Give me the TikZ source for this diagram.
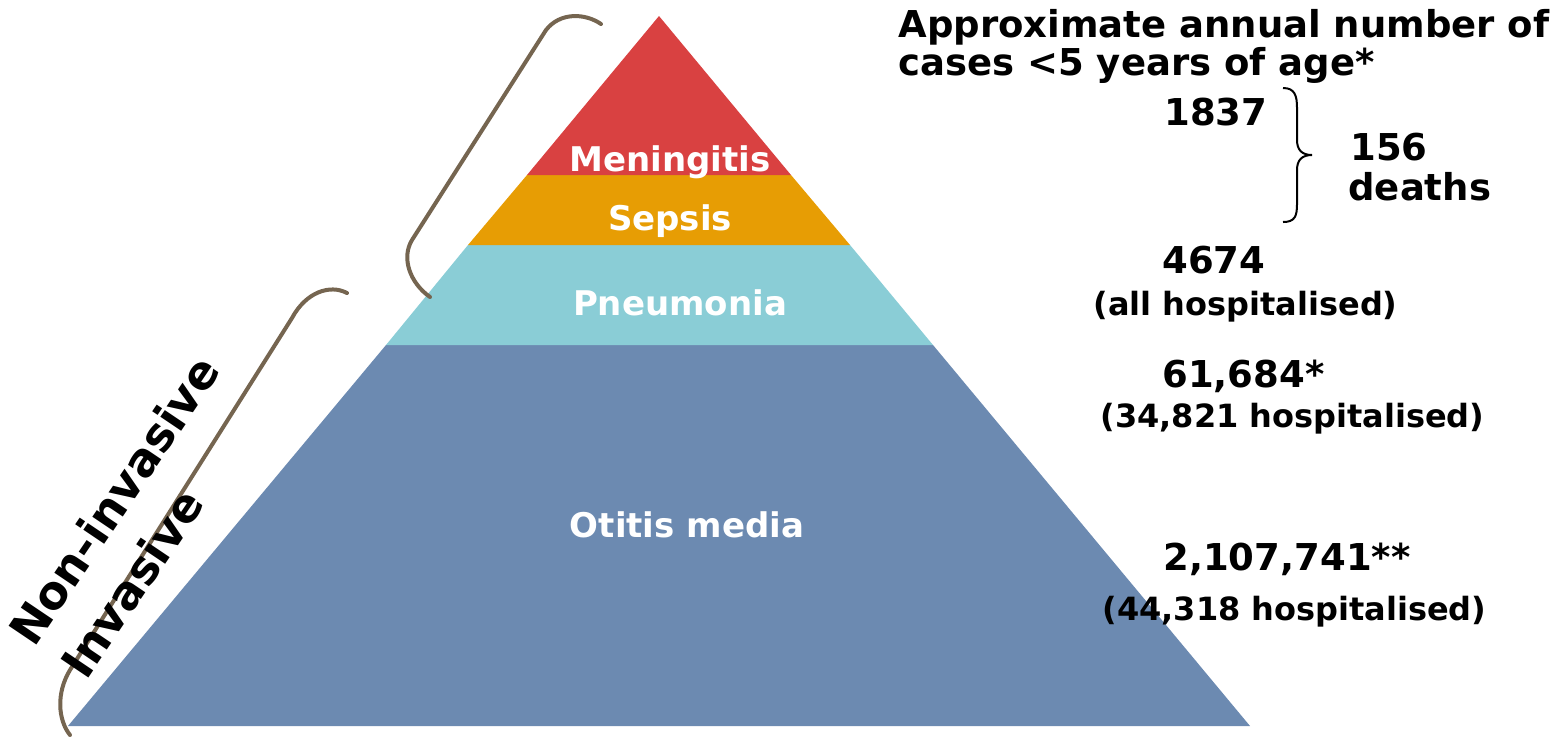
\documentclass[tikz,border=0pt]{standalone}
\usepackage{fontspec}
\setmainfont{DejaVu Sans}
\definecolor{cRed}{HTML}{D94141}
\definecolor{cOrange}{HTML}{E79D04}
\definecolor{cTeal}{HTML}{8ACDD6}
\definecolor{cBlue}{HTML}{6C8AB1}
\definecolor{cBrown}{HTML}{756550}
\tikzset{
  big/.style={inner sep=0pt, anchor=base west, font=\fontsize{18.5}{22}\selectfont\bfseries},
  small/.style={inner sep=0pt, anchor=base west, font=\fontsize{16}{19}\selectfont\bfseries},
  band/.style={inner sep=0pt, anchor=base, text=white, font=\fontsize{17}{20}\selectfont\bfseries},
  side/.style={inner sep=0pt, anchor=center, rotate=56, font=\fontsize{23}{27}\selectfont\bfseries},
  bracket/.style={draw=cBrown, line width=2pt, line cap=round},
}
\begin{document}
\begin{tikzpicture}[x=0.5pt, y=-0.5pt]
\useasboundingbox (0,0) rectangle (1556,736);
% pyramid bands
\fill[cBlue]   (386,345) -- (933,345) -- (1250,726) -- (68,726) -- cycle;
\fill[cTeal]   (468,245) -- (850,245) -- (933,345) -- (386,345) -- cycle;
\fill[cOrange] (527,175) -- (791,175) -- (850,245) -- (468,245) -- cycle;
\fill[cRed]    (659,16) -- (791,175) -- (527,175) -- cycle;
% band labels
\node[band] (men) at (670,171) {Meningitis};
\node[band] (sep) at (670,230) {Sepsis};
\node[band] (pne) at (680,315) {Pneumonia};
\node[band] (oti) at (687,537) {Otitis media};
% brackets
\draw[bracket] (601,24) .. controls (585,13) and (560,12) .. (546,30) -- (412,240) .. controls (401,258) and (410,283) .. (430,297);
\draw[bracket] (347,293) .. controls (330,284) and (306,292) .. (292,318) -- (70,670) .. controls (56,693) and (58,720) .. (70,735);
% side labels
\node[side] (noninv) at (114,500) {Non-invasive};
\node[side] (inv) at (132,583) {Invasive};
% right texts
\node[big] (head1) at (898,37) {Approximate annual number of};
\node[big] (head2) at (898,75) {cases <5 years of age*};
\node[big] (n1837) at (1164,125) {1837};
\node[big] (n156) at (1350,160) {156};
\node[big] (deaths) at (1348,200) {deaths};
\node[big] (n4674) at (1162,273) {4674};
\node[small] (allhosp) at (1093,315) {(all hospitalised)};
\node[big] (n61684) at (1162,387) {61,684*};
\node[small] (hosp1) at (1100,427) {(34,821 hospitalised)};
\node[big] (n2107) at (1163,570) {2,107,741**};
\node[small] (hosp2) at (1102,620) {(44,318 hospitalised)};
% curly brace
\draw[line width=1pt] (1283,88) .. controls (1295,88) and (1297,96) .. (1297,108) -- (1297,140) .. controls (1297,150) and (1302,155) .. (1312,155) .. controls (1302,155) and (1297,160) .. (1297,170) -- (1297,204) .. controls (1297,216) and (1295,222) .. (1283,222);
\end{tikzpicture}
\end{document}
